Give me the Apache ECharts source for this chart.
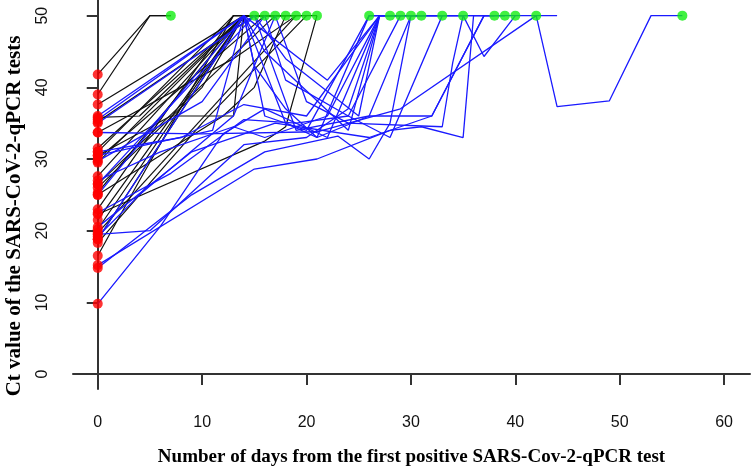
<!DOCTYPE html>
<html>
<head>
<meta charset="utf-8">
<script src="https://cdn.jsdelivr.net/npm/echarts@6/dist/echarts.min.js"></script>
<style>
html,body{margin:0;padding:0;background:#fff;}
#chart{width:751px;height:472px;}
</style>
</head>
<body>
<div id="chart"></div>
<script>
// Tick labels
var xTicks = [0, 10, 20, 30, 40, 50, 60];
var yTicks = [0, 10, 20, 30, 40, 50];

// Patients shown in black: [day, Ct] points (Ct 50 = negative)
var blackPatients = [
  [[0,41.8],[5,50],[7,50]],
  [[0,39.0],[5,50],[7,50]],
  [[0,37.6],[14,50],[15,50]],
  [[0,35.8],[4,36],[14,50],[16,50]],
  [[0,35.2],[15,50]],
  [[0,31.5],[14,50],[17,50]],
  [[0,31.0],[13,50],[15,50]],
  [[0,30.5],[7,36],[13,36],[14,50],[18,50]],
  [[0,30.0],[16,50]],
  [[0,29.5],[14,50],[19,50]],
  [[0,27.6],[14,50],[16,50]],
  [[0,26.5],[17,50]],
  [[0,26.0],[10,40],[14,50],[20,50]],
  [[0,25.3],[14,50],[15,50]],
  [[0,25.0],[12,36],[15,40],[18,50]],
  [[0,23.0],[13,50],[17,50]],
  [[0,22.3],[16,32.5],[18,34.5],[21,50]],
  [[0,21.5],[14,50],[18,50]],
  [[0,20.2],[14,50],[21,50]],
  [[0,19.7],[19,50]],
  [[0,18.8],[14,50],[15,50]],
  [[0,18.3],[10,35],[20,50]],
  [[0,16.5],[4,27],[13,50],[16,50]],
  [[0,33.7],[13,44],[19,50]]
];

// Patients shown in blue
var bluePatients = [
  [[0,9.8],[6,20.6],[12,33.5],[16,37],[22,33],[27,50],[30,50]],
  [[0,15.2],[15,28.6],[21,30],[28,34],[31,34.5],[35,33],[36,50],[38,50]],
  [[0,20.5],[9,31],[17,35],[26,33],[32,36],[37,50],[39,50]],
  [[0,33.7],[10,33.5],[21,33.8],[29,37],[42,50],[44,37.3],[49,38.1],[53,50],[56,50]],
  [[0,14.8],[9,25],[16,31],[23,33.2],[26,30],[28,35],[30,50],[33,50]],
  [[0,19.5],[5,20],[14,32],[20,33],[24,37],[27,50],[29,50]],
  [[0,36.0],[14,50],[16,36],[20,34],[26,50],[28,50]],
  [[0,31.0],[8,33],[14,37.6],[20,36],[27,50],[31,50]],
  [[0,27.0],[6,31],[13,34.5],[16,33],[22,36],[27,50],[26,50]],
  [[0,25.0],[14,50],[15,43],[18,37],[21,33],[26,50],[33,50]],
  [[0,22.5],[7,28],[14,35.5],[19,35],[24,36],[29,50],[35,50]],
  [[0,19.2],[4,25],[13,36],[17,50],[20,38],[24,35],[33,34.5],[34,43.4],[35,50]],
  [[0,18.8],[14,50],[18,35],[21,33],[26,36],[32,36],[37,50],[38,50]],
  [[0,26.5],[15,50],[19,34],[26,36],[30,50],[40,50]],
  [[0,30.5],[11,34],[14,50],[22,41],[27,50],[35,50],[37,44.3],[40,50],[42,50],[44,50]],
  [[0,35.5],[14,50],[16,45],[24,34],[27,50],[28,50]],
  [[0,29.7],[10,38],[16,50],[18,41],[24,36],[28,33],[33,50],[39,50]],
  [[0,35.0],[15,50],[18,44],[25,36],[27,50],[29,50]]
];

// Marker for the last negative test of each patient (day, Ct)
var lastTests = [
  [7,50],[15,50],[16,50],[17,50],[18,50],[19,50],[20,50],[21,50],[26,50],[28,50],
  [29,50],[30,50],[31,50],[33,50],[35,50],[38,50],[39,50],[40,50],[42,50],[56,50]
];

var series = [];
blackPatients.forEach(function (p) {
  series.push({ type: 'line', data: p, symbol: 'none', silent: true, z: 2,
    lineStyle: { color: '#111111', width: 1.2 } });
});
bluePatients.forEach(function (p) {
  series.push({ type: 'line', data: p, symbol: 'none', silent: true, z: 3,
    lineStyle: { color: '#1a1aff', width: 1.3 } });
});
var all = blackPatients.concat(bluePatients);
series.push({ type: 'scatter', z: 5, symbolSize: 10, itemStyle: { color: '#ff0000' },
  data: all.map(function (p) { return p[0]; }) });
series.push({ type: 'scatter', z: 5, symbolSize: 10, itemStyle: { color: '#11ee11' },
  data: lastTests });

var chart = echarts.init(document.getElementById('chart'), null, { renderer: 'canvas' });
chart.setOption({
  animation: false,
  backgroundColor: '#ffffff',
  grid: { left: 73, right: 1, top: 0, bottom: 81 },
  xAxis: {
    type: 'value', min: -2.37, max: 62.48,
    splitLine: { show: false },
    axisLine: { show: true, lineStyle: { color: '#333333', width: 2 } },
    axisTick: { show: true, length: 11, lineStyle: { color: '#333333', width: 2 }, customValues: xTicks },
    axisLabel: { customValues: xTicks, fontFamily: 'Liberation Sans', fontSize: 16, color: '#111', margin: 26 },
    name: 'Number of days from the first positive SARS-Cov-2-qPCR test',
    nameLocation: 'middle', nameGap: 59,
    nameTextStyle: { fontFamily: 'Liberation Serif', fontWeight: 'bold', fontSize: 19, color: '#000' }
  },
  yAxis: {
    type: 'value', min: -2.08, max: 52.18,
    splitLine: { show: false },
    axisLine: { show: true, lineStyle: { color: '#333333', width: 2 } },
    axisTick: { show: true, length: 11, lineStyle: { color: '#333333', width: 2 }, customValues: yTicks },
    axisLabel: { customValues: yTicks, rotate: 90, fontFamily: 'Liberation Sans', fontSize: 16, color: '#111', margin: 22 }
  },
  graphic: [{
    type: 'text', x: 15, y: 216, rotation: Math.PI / 2,
    style: { text: 'Ct value of the SARS-CoV-2-qPCR tests', fontFamily: 'Liberation Serif',
      fontWeight: 'bold', fontSize: 21, fill: '#000', align: 'center', verticalAlign: 'middle' }
  }],
  series: series
});
</script>
</body>
</html>
